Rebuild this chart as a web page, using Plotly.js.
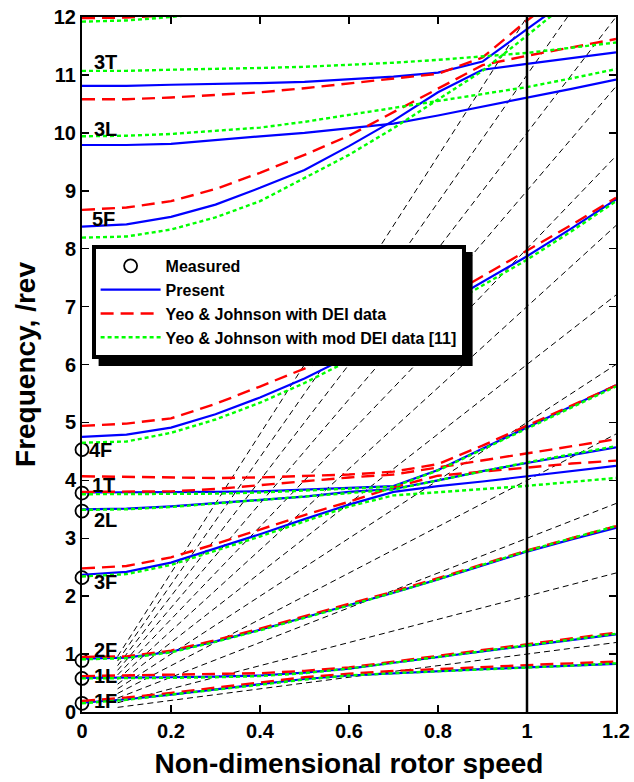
<!DOCTYPE html>
<html><head><meta charset="utf-8">
<script src="https://cdn.plot.ly/plotly-3.0.1.min.js"></script>
<style>html,body{margin:0;padding:0;background:#fff}</style>
</head><body><div id="chart" style="width:634px;height:782px"></div>
<script>
// Non-dimensional rotor speed grid
const speeds = [0, 0.1, 0.2, 0.3, 0.4, 0.5, 0.6, 0.7, 0.8, 0.9, 1.0, 1.1, 1.2];

// Present (blue solid)
const present_1F = [0.16, 0.22, 0.30, 0.39, 0.48, 0.57, 0.63, 0.67, 0.70, 0.74, 0.77, 0.80, 0.83];
const present_1L = [0.59, 0.59, 0.60, 0.61, 0.63, 0.68, 0.75, 0.85, 0.95, 1.05, 1.14, 1.24, 1.34];
const present_2F = [0.92, 0.94, 1.04, 1.22, 1.42, 1.63, 1.84, 2.06, 2.29, 2.53, 2.77, 2.98, 3.18];
const present_3F = [2.37, 2.42, 2.58, 2.82, 3.07, 3.33, 3.58, 3.80, 3.90, 3.98, 4.07, 4.16, 4.25];
const present_2L = [3.50, 3.51, 3.55, 3.61, 3.67, 3.72, 3.80, 3.85, 4.00, 4.16, 4.30, 4.44, 4.57];
const present_1T = [3.79, 3.79, 3.79, 3.80, 3.81, 3.84, 3.87, 3.90, 4.18, 4.55, 4.92, 5.28, 5.64];
const present_4F = [4.75, 4.79, 4.91, 5.14, 5.43, 5.76, 6.14, 6.55, 6.98, 7.42, 7.87, 8.35, 8.85];
const present_5F = [8.38, 8.42, 8.55, 8.76, 9.05, 9.36, 9.77, 10.21, 10.70, 11.09, 11.19, 11.29, 11.39];
const present_3L = [9.79, 9.79, 9.81, 9.88, 9.94, 10.00, 10.08, 10.16, 10.30, 10.45, 10.60, 10.76, 10.92];
const present_3T = [10.81, 10.81, 10.83, 10.84, 10.86, 10.88, 10.92, 10.97, 11.04, 11.23, 11.79, 12.35, 12.90];

// Yeo & Johnson with DEI data (red dashed)
const dei_1F = [0.19, 0.25, 0.33, 0.42, 0.51, 0.60, 0.66, 0.71, 0.74, 0.78, 0.81, 0.84, 0.87];
const dei_1L = [0.62, 0.63, 0.64, 0.65, 0.67, 0.71, 0.77, 0.87, 0.97, 1.07, 1.16, 1.26, 1.37];
const dei_2F = [0.95, 0.96, 1.06, 1.24, 1.44, 1.65, 1.86, 2.08, 2.31, 2.55, 2.79, 3.00, 3.21];
const dei_3F = [2.48, 2.52, 2.67, 2.90, 3.15, 3.40, 3.63, 3.88, 4.08, 4.15, 4.23, 4.29, 4.34];
const dei_2L = [3.80, 3.80, 3.81, 3.85, 3.92, 3.99, 4.05, 4.10, 4.22, 4.35, 4.47, 4.59, 4.71];
const dei_1T = [4.07, 4.06, 4.05, 4.04, 4.05, 4.07, 4.10, 4.15, 4.28, 4.60, 4.94, 5.29, 5.64];
const dei_4F = [4.94, 4.98, 5.07, 5.32, 5.62, 5.93, 6.28, 6.67, 7.08, 7.52, 7.96, 8.41, 8.88];
const dei_5F = [8.67, 8.71, 8.82, 9.03, 9.31, 9.62, 9.95, 10.36, 10.76, 11.17, 11.33, 11.48, 11.62];
const dei_3T = [10.58, 10.58, 10.61, 10.65, 10.70, 10.77, 10.85, 10.93, 11.02, 11.30, 11.94, 12.50, 13.00];
const dei_6F = [11.98, 11.99, 12.03, 12.10, null, null, null, null, null, null, null, null, null];

// Yeo & Johnson with mod DEI data [11] (green dotted)
const mod_1F = [0.15, 0.21, 0.30, 0.38, 0.47, 0.56, 0.63, 0.67, 0.70, 0.74, 0.77, 0.80, 0.84];
const mod_1L = [0.58, 0.58, 0.59, 0.60, 0.62, 0.67, 0.75, 0.85, 0.95, 1.05, 1.15, 1.25, 1.35];
const mod_2F = [0.91, 0.93, 1.03, 1.21, 1.41, 1.62, 1.84, 2.06, 2.29, 2.54, 2.78, 3.00, 3.21];
const mod_3F = [2.34, 2.38, 2.54, 2.78, 3.03, 3.29, 3.55, 3.74, 3.80, 3.85, 3.905, 3.97, 4.04];
const mod_2L = [3.49, 3.50, 3.54, 3.60, 3.66, 3.71, 3.77, 3.84, 4.00, 4.16, 4.31, 4.45, 4.59];
const mod_1T = [3.76, 3.76, 3.76, 3.77, 3.79, 3.82, 3.86, 3.89, 4.17, 4.53, 4.90, 5.26, 5.62];
const mod_4F = [4.65, 4.67, 4.82, 5.05, 5.34, 5.68, 6.07, 6.48, 6.92, 7.36, 7.81, 8.30, 8.82];
const mod_5F = [8.19, 8.21, 8.33, 8.54, 8.82, 9.22, 9.62, 10.08, 10.58, 11.07, 11.68, 12.30, null];
const mod_3L = [9.94, 9.95, 9.98, 10.03, 10.09, 10.19, 10.31, 10.44, 10.55, 10.67, 10.79, 10.94, 11.10];
const mod_3T = [11.07, 11.07, 11.09, 11.10, 11.12, 11.14, 11.17, 11.21, 11.26, 11.32, 11.38, 11.47, 11.56];
const mod_6F = [11.92, 11.94, 12.00, 12.08, null, null, null, null, null, null, null, null, null];

// Measured (open circles at zero speed)
const measuredSpeed = [0, 0, 0, 0, 0, 0, 0];
const measuredFreq = [0.15, 0.58, 0.89, 2.32, 3.47, 3.78, 4.53];

// Per-rev lines
const perRevOrders = [1, 2, 3, 4, 5, 6, 7, 8, 9, 10, 11, 12];
const perRevSpeedRange = [0.08, 1.2];

// Vertical marker at nominal speed
const nominalSpeed = 1;

// Mode labels
const labelText = ['1F', '1L', '2F', '3F', '2L', '1T', '4F', '5F', '3L', '3T'];
const labelSpeed = [0.022, 0.022, 0.022, 0.022, 0.022, 0.018, 0.011, 0.018, 0.022, 0.022];
const labelFreq = [0.19, 0.62, 1.07, 2.24, 3.32, 3.92, 4.52, 8.51, 10.06, 11.23];

function joinModes(modes) {
  const x = [], y = [];
  modes.forEach((m, i) => {
    if (i > 0) { x.push(null); y.push(null); }
    speeds.forEach((s, k) => { x.push(s); y.push(m[k]); });
  });
  return {x, y};
}

const FONT = 'Liberation Sans, Arial, sans-serif';
const traces = [];

perRevOrders.forEach(n => {
  traces.push({
    type: 'scatter', mode: 'lines', showlegend: false, hoverinfo: 'skip',
    x: perRevSpeedRange.slice(),
    y: perRevSpeedRange.map(s => n * s),
    line: {color: 'black', width: 1, dash: '6px,4px'}
  });
});

traces.push({
  type: 'scatter', mode: 'markers', name: 'Measured',
  x: measuredSpeed, y: measuredFreq, cliponaxis: false,
  marker: {symbol: 'circle-open', size: 13, color: 'black', line: {width: 1.8, color: 'black'}}
});

const pres = joinModes([present_1F, present_1L, present_2F, present_3F, present_2L, present_1T, present_4F, present_5F, present_3L, present_3T]);
traces.push({type: 'scatter', mode: 'lines', name: 'Present', x: pres.x, y: pres.y,
  connectgaps: false, line: {color: '#0000ff', width: 2.2}});

const dei = joinModes([dei_1F, dei_1L, dei_2F, dei_3F, dei_2L, dei_1T, dei_4F, dei_5F, dei_3T, dei_6F]);
traces.push({type: 'scatter', mode: 'lines', name: 'Yeo & Johnson with DEI data', x: dei.x, y: dei.y,
  connectgaps: false, line: {color: '#ff0000', width: 2.4, dash: '13px,7px'}});

const mod = joinModes([mod_1F, mod_1L, mod_2F, mod_3F, mod_2L, mod_1T, mod_4F, mod_5F, mod_3L, mod_3T, mod_6F]);
traces.push({type: 'scatter', mode: 'lines', name: 'Yeo & Johnson with mod DEI data [11]', x: mod.x, y: mod.y,
  connectgaps: false, line: {color: '#00ff00', width: 2.4, dash: '4px,3px'}});

const annotations = labelText.map((t, i) => ({
  x: labelSpeed[i], y: labelFreq[i], xref: 'x', yref: 'y', text: t, showarrow: false,
  xanchor: 'left', yanchor: 'middle',
  font: {family: FONT, size: 20, color: 'black', weight: 'bold'}
}));

const baseShapes = [{
  type: 'line', xref: 'x', yref: 'paper', x0: nominalSpeed, x1: nominalSpeed, y0: 0, y1: 1,
  line: {color: 'black', width: 2.5}, layer: 'above'
}];

// first estimate of the legend drop shadow (refined after render)
const M = {l: 82, r: 18, t: 17, b: 70};
const PW = 634 - M.l - M.r, PH = 782 - M.t - M.b;
const shadowShape = (left, top, right, bottom) => ({
  type: 'rect', xref: 'paper', yref: 'paper',
  x0: (left - M.l) / PW, x1: (right - M.l) / PW,
  y0: 1 - (bottom - M.t) / PH, y1: 1 - (top - M.t) / PH,
  fillcolor: 'black', line: {width: 0}, layer: 'above'
});

const axisCommon = {
  showgrid: false, zeroline: false, showline: true, linecolor: 'black', linewidth: 2,
  mirror: 'ticks', ticks: 'inside', ticklen: 7, tickwidth: 1.5, tickcolor: 'black',
  tickfont: {family: FONT, size: 20, color: 'black', weight: 'bold'}
};

const layout = {
  width: 634, height: 782,
  margin: M,
  paper_bgcolor: 'white', plot_bgcolor: 'white',
  showlegend: true,
  xaxis: Object.assign({}, axisCommon, {
    range: [0, 1.2], tickvals: [0, 0.2, 0.4, 0.6, 0.8, 1, 1.2],
    ticktext: ['0', '0.2', '0.4', '0.6', '0.8', '1', '1.2'],
    title: {text: 'Non-dimensional rotor speed', standoff: 12,
      font: {family: FONT, size: 28, color: 'black', weight: 'bold'}}
  }),
  yaxis: Object.assign({}, axisCommon, {
    range: [0, 12], dtick: 1, tick0: 0,
    title: {text: 'Frequency, /rev', standoff: 10,
      font: {family: FONT, size: 28, color: 'black', weight: 'bold'}}
  }),
  legend: {
    x: 0.018, y: 0.672, xanchor: 'left', yanchor: 'top',
    bgcolor: 'white', bordercolor: 'black', borderwidth: 4,
    font: {family: FONT, size: 16, color: 'black', weight: 'bold'},
    itemwidth: 60, tracegroupgap: 0, entrywidth: 320, entrywidthmode: 'pixels'
  },
  annotations: annotations,
  shapes: baseShapes.concat([shadowShape(99, 253, 497, 347)])
};

const gd = document.getElementById('chart');
function fitShadow() {
  const bg = gd.querySelector('g.legend rect.bg');
  if (!bg) return;
  const b = bg.getBoundingClientRect();
  const g = gd.getBoundingClientRect();
  if (!b.width) return;
  const off = 7;
  const half = 2; // half the border width
  Plotly.relayout(gd, {shapes: baseShapes.concat([shadowShape(
    b.left - g.left - half + off, b.top - g.top - half + off,
    b.right - g.left + half + off, b.bottom - g.top + half + off)])});
}
Plotly.newPlot(gd, traces, layout, {staticPlot: true});
fitShadow();
</script></body></html>
